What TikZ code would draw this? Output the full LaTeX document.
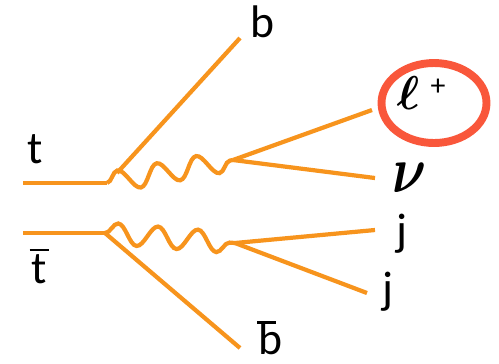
\RequirePackage{fix-cm}
\documentclass[tikz,border=0pt]{standalone}
\usepackage{fontspec}
\usepackage{amsmath,bm,graphicx}
\setmainfont{Carlito}
\usetikzlibrary{decorations.pathmorphing,shapes.geometric}
\definecolor{quark}{HTML}{F7941D}
\definecolor{ringred}{HTML}{F9573B}
\newcommand{\barred}[3]{\rlap{\hspace{#2}\rule[#1]{0.42em}{1.5pt}}#3}

\begin{document}
\begin{tikzpicture}[x=0.02cm, y=-0.02cm,
  fermion/.style={draw=quark, line width=2.4pt},
  boson/.style={draw=quark, line width=2.4pt, decorate,
              decoration={snake, amplitude=0.21cm, segment length=0.8cm}},
  lbl/.style={font=\fontsize{26}{30}\selectfont, text=black, inner sep=0pt},
  mlbl/.style={font=\fontsize{27}{30}\selectfont, text=black, inner sep=0pt}
]
\useasboundingbox (0,0) rectangle (499,363);
% vertices and free ends
\coordinate (tin)   at (23,183);
\coordinate (tvtx)  at (107,183);
\coordinate (bvtx)  at (117,173);
\coordinate (wp)    at (233,160);
\coordinate (tbin)  at (23,233);
\coordinate (tbvtx) at (105,233);
\coordinate (wm)    at (235,243);
\coordinate (bend)  at (240,38);
\coordinate (bbend) at (240,348);
\coordinate (lend)  at (372,110);
\coordinate (nend)  at (375,178);
\coordinate (jaend) at (375,230);
\coordinate (jbend) at (367,293);
% labels
\node[lbl] (t)    at (35,149)  {t};
\node[lbl] (tbar) at (39,266)  {\barred{0.7em}{-0.04em}{t}};
\node[lbl] (b)    at (262,22)  {b};
\node[lbl] (bbar) at (270,338) {\barred{0.66em}{-0.02em}{b}};
\node[mlbl] (lep) at (408,93)  {$\bm{\ell}$};
\node[font=\fontsize{17}{19}\selectfont, inner sep=0pt] (plus) at (438,87) {+};
\node[mlbl, font=\fontsize{30}{34}\selectfont] (nu) at (410,178)
  {\scalebox{1}[1.25]{$\bm{\nu}$}};
\node[lbl] (ja)   at (402,234) {j};
\node[lbl] (jb)   at (388,292) {j};
\node[ellipse, draw=ringred, line width=4.5pt, minimum width=2.1cm,
      minimum height=1.6cm] (ring) at (434,103) {};
% top quark leg
\draw[fermion] (tin) -- (tvtx);
\draw[boson] (tvtx) -- (wp);
\draw[fermion] (bvtx) -- (bend);
\draw[fermion] (wp) -- (lend);
\draw[fermion] (wp) -- (nend);
% antitop leg
\draw[fermion] (tbin) -- (tbvtx);
\draw[boson] (tbvtx) -- (wm);
\draw[fermion] (tbvtx) -- (bbend);
\draw[fermion] (wm) -- (jaend);
\draw[fermion] (wm) -- (jbend);
\end{tikzpicture}
\end{document}
